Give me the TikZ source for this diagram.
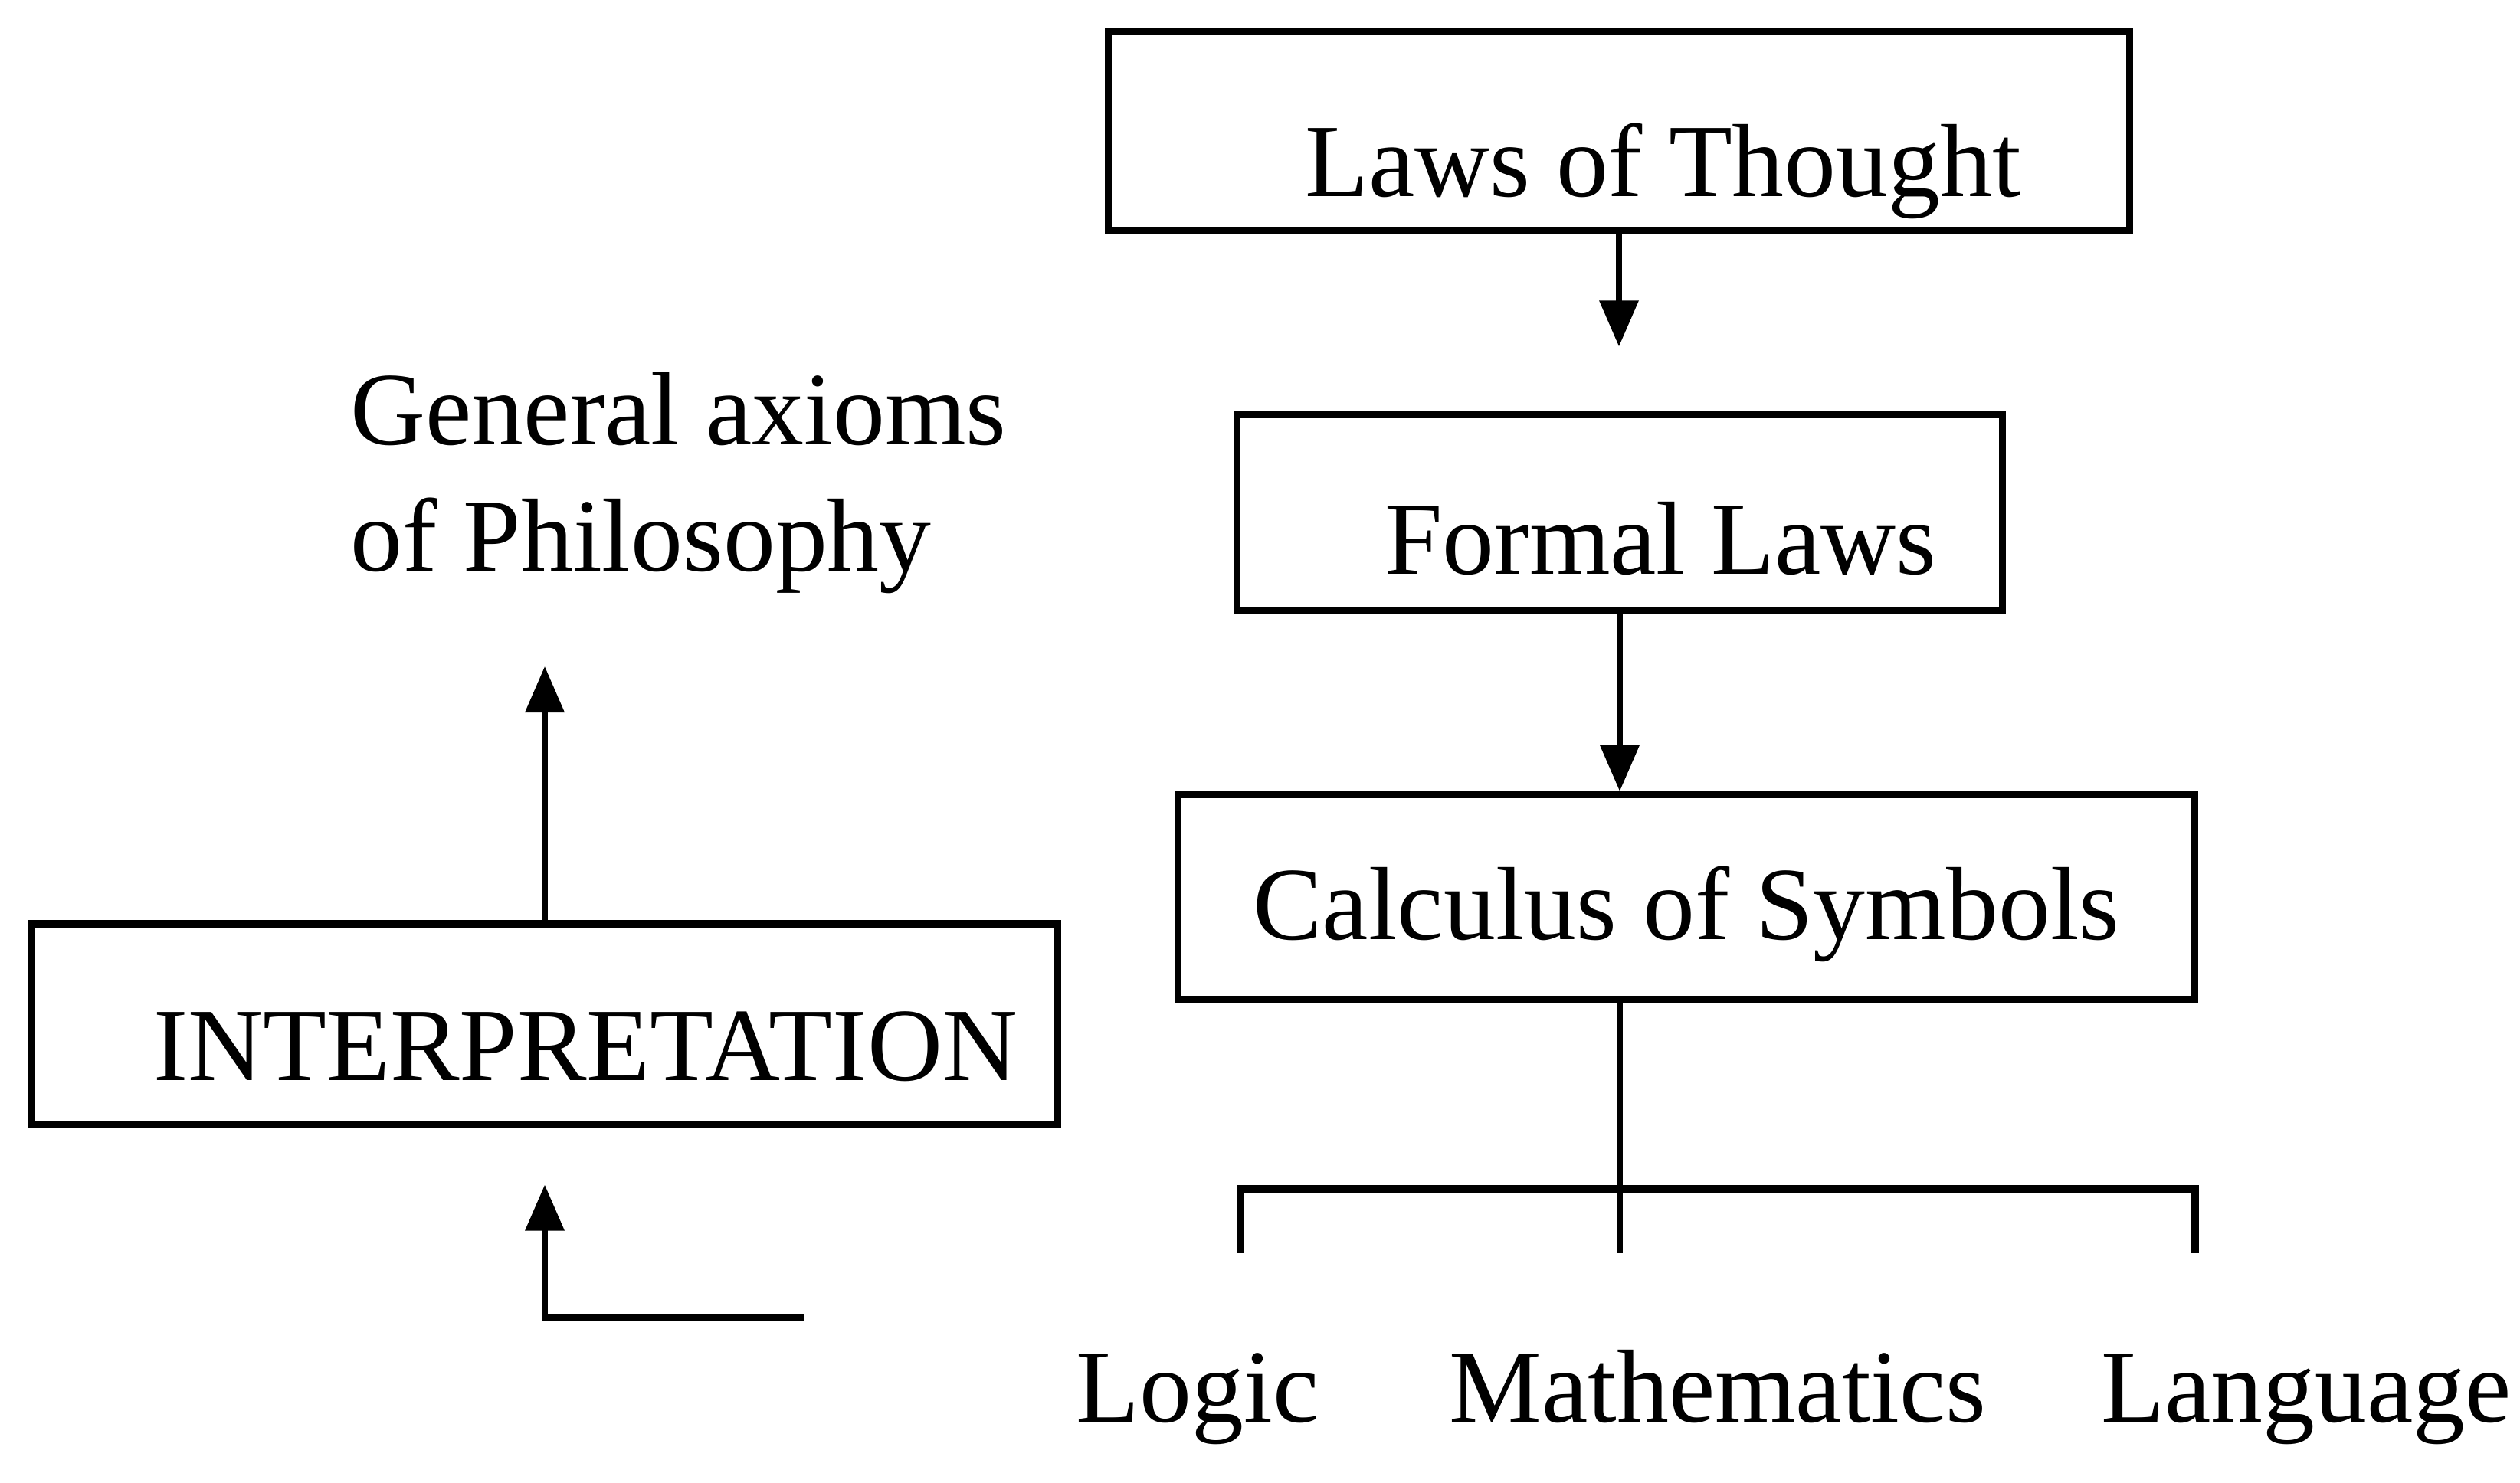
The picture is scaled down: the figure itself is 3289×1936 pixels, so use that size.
\documentclass[tikz,border=0pt]{standalone}
\usepackage{fontspec}
\setmainfont{Liberation Serif}
\usetikzlibrary{arrows.meta}

\begin{document}
\begin{tikzpicture}[x=0.01cm, y=-0.01cm,
    font=\fontsize{38.6}{46.7}\selectfont,
    box/.style={draw, line width=2.6pt, inner sep=0pt},
    arr/.style={line width=2pt, -{Triangle[length=6mm,width=5mm]}},
    line/.style={line width=2pt}]
  \useasboundingbox (0,0) rectangle (3289,1936);
  \node[box, minimum width=13.32cm, text height=2.14cm, text depth=0.44cm] (thought) at (2113,171) {\hspace*{1.15cm}Laws of Thought};
  \node[box, minimum width=9.99cm, text height=2.08cm, text depth=0.48cm] (formal) at (2114,669) {\hspace*{1.07cm}Formal Laws};
  \node[box, minimum width=13.27cm, text height=1.89cm, text depth=0.78cm] (calc) at (2201,1171) {Calculus of Symbols};
  \node[box, minimum width=13.38cm, text height=2.04cm, text depth=0.58cm] (interp) at (711,1337) {\hspace*{1.06cm}INTERPRETATION};
  \node[align=left, anchor=base west, inner sep=0pt] (axioms) at (457,745) {General axioms\\of Philosophy};
  \node[anchor=base, inner sep=0pt] (logic) at (1563,1856) {Logic};
  \node[anchor=base, inner sep=0pt] (maths) at (2242,1856) {Mathematics};
  \node[anchor=base, inner sep=0pt] (lang) at (3010,1856) {Language};

  \coordinate (stem) at (2114,1636);
  \coordinate (bl) at (1619,1552);
  \coordinate (br) at (2865,1552);
  \coordinate (tip) at (711,870);
  \coordinate (feed) at (1049,1720);

  \draw[arr, shorten >=0.84cm] (thought.south) -- (thought.south |- formal.north);
  \draw[arr] (formal.south) -- (formal.south |- calc.north);
  \draw[line] (calc.south -| stem) -- (stem);
  \draw[box] ([yshift=-0.84cm]bl) -- (bl) -- (br) -- ([yshift=-0.84cm]br);
  \draw[arr] (interp.north) -- (tip);
  \draw[arr, shorten >=0.74cm] (feed) -| (interp.south);
\end{tikzpicture}
\end{document}
